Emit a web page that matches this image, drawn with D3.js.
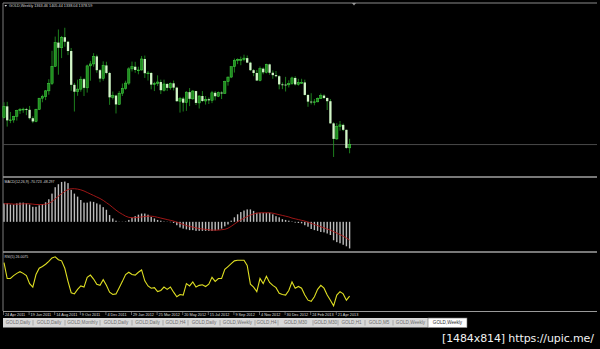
<!DOCTYPE html>
<html>
<head>
<meta charset="utf-8">
<title>GOLD,Weekly</title>
<script src="https://d3js.org/d3.v7.min.js"></script>
<style>
  body { margin: 0; background: #000; }
  svg { display: block; }
  .txt { font-family: 'Liberation Sans', Arial, sans-serif; fill: #d8d8d8; }
  .axis path, .axis line { stroke: #9a9a9a; }
  .axis text { font-family: 'Liberation Sans', Arial, sans-serif; font-size: 3.8px; fill: #dcdcdc; }
</style>
</head>
<body>
<script>
// weekly OHLC, 24 Apr 2011 .. 19 May 2013
var opens = [1504,1556,1491,1493,1510,1536,1542,1543,1540,1501,1486,1542,1594,1601,1628,1663,1742,1852,1828,1877,1856,1813,1656,1624,1636,1682,1642,1744,1753,1788,1724,1685,1746,1711,1598,1606,
  1565,1617,1640,1664,1730,1740,1725,1725,1776,1710,1711,1657,1662,1669,1631,1660,1642,1663,1643,1580,1592,1573,1622,1591,1627,1572,1604,1581,1589,1584,1619,1603,1620,1616,1671,1692,1740,1769,1773,1773,1780,1759,1724,1711,1676,1731,1714,1751,1712,1701,1696,1658,1657,
  1656,1662,1688,1658,1667,1667,1609,1578,1576,1577,1592,1606,1595,1580,1477,1405,1463,1470,1447,1363.46];
var highs = [1575,1577,1530,1512,1540,1548,1550,1549,1558,1510,1545,1595,1610,1632,1682,1814,1880,1913,1883,1921,1860,1827,1665,1680,1695,1688,1750,1767,1803,1796,1729,1765,1763,1716,1625,1610,
  1627,1662,1675,1738,1764,1763,1740,1790,1792,1720,1715,1670,1700,1680,1680,1664,1667,1676,1647,1600,1600,1626,1641,1632,1628,1607,1627,1604,1597,1628,1627,1625,1626,1675,1694,1740,1778,1779,1787,1796,1792,1763,1729,1725,1741,1737,1754,1754,1723,1720,1701,1667,1693,
  1677,1694,1696,1684,1684,1680,1612,1617,1590,1597,1616,1612,1597,1590,1482,1478,1488,1476,1448,1405.44];
var lows = [1500,1462,1478,1480,1490,1521,1526,1515,1495,1478,1482,1540,1575,1585,1610,1655,1740,1703,1780,1833,1794,1628,1532,1605,1624,1604,1620,1675,1740,1712,1668,1675,1705,1563,1588,1523,
  1563,1604,1633,1655,1718,1712,1705,1722,1688,1676,1635,1627,1651,1613,1625,1627,1633,1630,1577,1527,1532,1535,1557,1586,1562,1546,1576,1564,1567,1571,1584,1599,1590,1614,1652,1687,1713,1752,1747,1765,1757,1720,1696,1674,1672,1705,1709,1703,1684,1691,1635,1636,1625,
  1644,1656,1653,1652,1660,1606,1554,1565,1561,1575,1590,1590,1539,1476,1321,1400,1443,1441,1359,1338.04];
var closes = [1556,1491,1493,1510,1536,1542,1543,1540,1501,1486,1542,1594,1601,1628,1663,1742,1852,1828,1877,1856,1813,1656,1624,1636,1682,1642,1744,1753,1788,1724,1685,1746,1711,1598,1606,1565,
  1617,1640,1664,1730,1740,1725,1725,1776,1710,1711,1657,1662,1669,1631,1660,1642,1663,1643,1580,1592,1573,1622,1591,1627,1572,1604,1581,1589,1584,1619,1603,1620,1616,1671,1692,1740,1769,1773,1773,1780,1759,1724,1711,1676,1731,1714,1751,1712,1701,1696,1658,1657,1656,
  1662,1688,1658,1667,1667,1609,1578,1576,1577,1592,1606,1595,1580,1477,1405,1463,1470,1447,1363,1378.59];

// MACD(12,26,9) histogram and signal
var macdHist = [49,49,46,46,49,51,51,49,46,40,40,44,47,52,60,75,92,100,106,107,103,85,75,67,58,51,51,54,53,49,46,39,32,18,9,3,
  0.5,0.5,1,5,11,15,19,22,22,19,13,9,5,3,1,0.5,-1,-3,-9,-15,-18,-20,-22,-22,-24,-24,-24,-24,-24,-24,-23,-21,-18,-12,-7,3,12,20,26,30,33,33,29,24,24,24,24,24,20,15,12,7,5,3,1,-2,-3,
  -4,-9,-13,-19,-22,-24,-27,-28,-31,-35,-49,-54,-57,-61,-65,-70.723];
var macdSignal = [48,48,48,47,47,47,48,48,48,47,46,46,46,47,49,54,61,68,75,81,86,88,88,87,85,82,78,74,70,66,62,57,51,45,38,31,
  25,20,15,12,11,11,12,13,14,15,15,14,12,10,8,6,4,2,-1,-4,-7,-10,-12,-14,-16,-18,-19,-20,-21,-22,-22,-22,-21,-20,-17,-12,-6,0,5,10,14,18,21,23,24,24,24,24,23,21,19,17,15,13,10,8,6,
  4,2,-1,-4,-7,-10,-13,-16,-19,-22,-26,-30,-34,-38,-43,-48.297];
// RSI(5)
var rsiVals = [85,57,57,62,66,69,66,62,48,42,64,75,78,82,87,93,95,90,88,75,52,32,30,38,44,42,59,63,56,47,45,55,45,33,29,30,
  41,52,64,68,64,63,68,72,53,44,40,41,34,36,42,38,42,33,25,29,28,48,44,51,42,45,46,43,47,59,52,57,57,73,78,83,88,89,89,89,80,47,42,34,57,48,61,50,45,41,31,29,28,36,51,40,43,
  40,28,19,17,25,38,45,40,28,19,9,28,34,30,19,26.0075];

var dateLabels = ["24 Apr 2011","19 Jun 2011","14 Aug 2011","9 Oct 2011","4 Dec 2011","29 Jan 2012","25 Mar 2012",
  "20 May 2012","15 Jul 2012","9 Sep 2012","4 Nov 2012","30 Dec 2012","24 Feb 2013","21 Apr 2013"];
var tabNames = ["GOLD,Daily","GOLD,Daily","GOLD,Monthly","GOLD,Daily","GOLD,Daily","GOLD,H4","GOLD,Daily","GOLD,Weekly",
  "GOLD,H4","GOLD,M30","GOLD,M30","GOLD,H1","GOLD,M5","GOLD,Weekly","GOLD,Weekly"];
var tabEdges = [3,33,65,100,132,163,188,220,255,278,313,338,365,393,428,467];

var width = 600, height = 349;
var svg = d3.select("body").append("svg")
    .attr("width", width)
    .attr("height", height);

svg.append("rect").attr("width", width).attr("height", height).attr("fill", "#000");

var n = closes.length;
var x = d3.scaleLinear().domain([0, n - 1]).range([4, 349.6]);
var yMain = d3.scaleLinear().domain([1228, 2022]).range([177, 6]);
var yMacd = d3.scaleLinear().domain([-80.2, 116.5]).range([252, 178]);
var yRsi = d3.scaleLinear().domain([0, 100]).range([311, 254]);

// frame lines
var frame = svg.append("g");
frame.append("line").attr("x1", 3).attr("x2", 597).attr("y1", 3).attr("y2", 3).attr("stroke", "#8a8a8a").attr("stroke-width", 1.2);
frame.append("line").attr("x1", 3).attr("x2", 3).attr("y1", 3).attr("y2", 311).attr("stroke", "#7a7a7a").attr("stroke-width", 1);
[177, 252].forEach(function (yy) {
  frame.append("line").attr("x1", 3).attr("x2", 597).attr("y1", yy).attr("y2", yy)
    .attr("stroke", "#a0a0a0").attr("stroke-width", 1.3);
});
// shift marker
frame.append("path").attr("d", "M352,3 L356,3 L354,5.5 Z").attr("fill", "#9a9a9a");

// bid line
svg.append("line").attr("x1", 3).attr("x2", 597)
  .attr("y1", yMain(closes[n - 1])).attr("y2", yMain(closes[n - 1]))
  .attr("stroke", "#4a4a4a").attr("stroke-width", 1);

// candles
var idx = d3.range(n);
var cw = 2.3;
svg.append("g").selectAll("line").data(idx).enter().append("line")
  .attr("x1", function (i) { return x(i); })
  .attr("x2", function (i) { return x(i); })
  .attr("y1", function (i) { return yMain(highs[i]); })
  .attr("y2", function (i) { return yMain(lows[i]); })
  .attr("stroke", "#24a024").attr("stroke-width", 0.8);
svg.append("g").selectAll("rect").data(idx).enter().append("rect")
  .attr("x", function (i) { return x(i) - cw / 2; })
  .attr("width", cw)
  .attr("y", function (i) { return yMain(Math.max(opens[i], closes[i])); })
  .attr("height", function (i) { return Math.max(0.8, Math.abs(yMain(opens[i]) - yMain(closes[i]))); })
  .attr("fill", function (i) { return closes[i] >= opens[i] ? "#1f8a1f" : "#d2f6c8"; })
  .attr("stroke", function (i) { return closes[i] >= opens[i] ? "#44d844" : "none"; })
  .attr("stroke-width", 0.5);

// top-left label
svg.append("path").attr("d", "M4.5,5 L7,5 L5.75,6.8 Z").attr("fill", "#e0e0e0");
svg.append("text").attr("class", "txt").attr("x", 9).attr("y", 7.4).attr("font-size", "3.8px")
  .text("GOLD,Weekly  1363.46 1405.44 1338.04 1378.59");

// MACD
svg.append("g").selectAll("rect").data(idx).enter().append("rect")
  .attr("x", function (i) { return x(i) - 0.7; })
  .attr("width", 1.4)
  .attr("y", function (i) { return Math.min(yMacd(0), yMacd(macdHist[i])); })
  .attr("height", function (i) { return Math.abs(yMacd(macdHist[i]) - yMacd(0)); })
  .attr("fill", "#bcbcbc");
svg.append("path").datum(idx)
  .attr("d", d3.line().x(function (i) { return x(i); }).y(function (i) { return yMacd(macdSignal[i]); }))
  .attr("fill", "none").attr("stroke", "#b01818").attr("stroke-width", 0.9);
svg.append("text").attr("class", "txt").attr("x", 4.5).attr("y", 182.5).attr("font-size", "3.5px")
  .text("MACD(12,26,9) -70.723 -48.297");

// RSI
svg.append("path").datum(idx)
  .attr("d", d3.line().x(function (i) { return x(i); }).y(function (i) { return yRsi(rsiVals[i]); }))
  .attr("fill", "none").attr("stroke", "#dede22").attr("stroke-width", 1.1);
svg.append("text").attr("class", "txt").attr("x", 4.5).attr("y", 258).attr("font-size", "3.5px")
  .text("RSI(5) 26.0075");

// time axis
var tickIdx = dateLabels.map(function (d, k) { return k * 8; });
var axis = svg.append("g").attr("class", "axis")
  .attr("transform", "translate(0,311)")
  .call(d3.axisBottom(x).tickValues(tickIdx).tickSize(4).tickSizeOuter(0)
    .tickFormat(function (d, k) { return dateLabels[k]; }));
axis.select(".domain").attr("d", "M3,0.5H597").attr("stroke-width", 1);
axis.selectAll(".tick line").attr("transform", "translate(-1,0)").attr("stroke-width", 0.6);
axis.selectAll(".tick text").attr("text-anchor", "start").attr("x", 0.5).attr("y", 2).attr("dy", "0.71em");

// tab strip
var tabs = svg.append("g");
tabs.append("rect").attr("x", 3).attr("y", 318).attr("width", tabEdges[tabEdges.length - 1] - 3).attr("height", 9.5)
  .attr("fill", "#d8d8d8");
tabNames.forEach(function (name, k) {
  var a = tabEdges[k], b = tabEdges[k + 1];
  var active = k === tabNames.length - 1;
  if (active) {
    tabs.append("rect").attr("x", a).attr("y", 318).attr("width", b - a).attr("height", 9.5)
      .attr("fill", "#ffffff").attr("stroke", "#6a6a6a").attr("stroke-width", 0.6);
  } else if (k > 0) {
    tabs.append("line").attr("x1", a).attr("x2", a).attr("y1", 320).attr("y2", 325.5)
      .attr("stroke", "#8a8a8a").attr("stroke-width", 0.6);
  }
  tabs.append("text").attr("x", (a + b) / 2).attr("y", 324.4)
    .attr("text-anchor", "middle").attr("font-size", "4.6px")
    .attr("font-family", "'Liberation Sans', Arial, sans-serif")
    .attr("fill", active ? "#303030" : "#6e6e6e")
    .text(name);
});

// watermark
svg.append("text").attr("x", 442).attr("y", 342).attr("font-family", "'DejaVu Sans', sans-serif")
  .attr("font-size", "11px").attr("fill", "#f2f2f2").attr("textLength", 152)
  .text("[1484x814] https://upic.me/");
</script>
</body>
</html>
